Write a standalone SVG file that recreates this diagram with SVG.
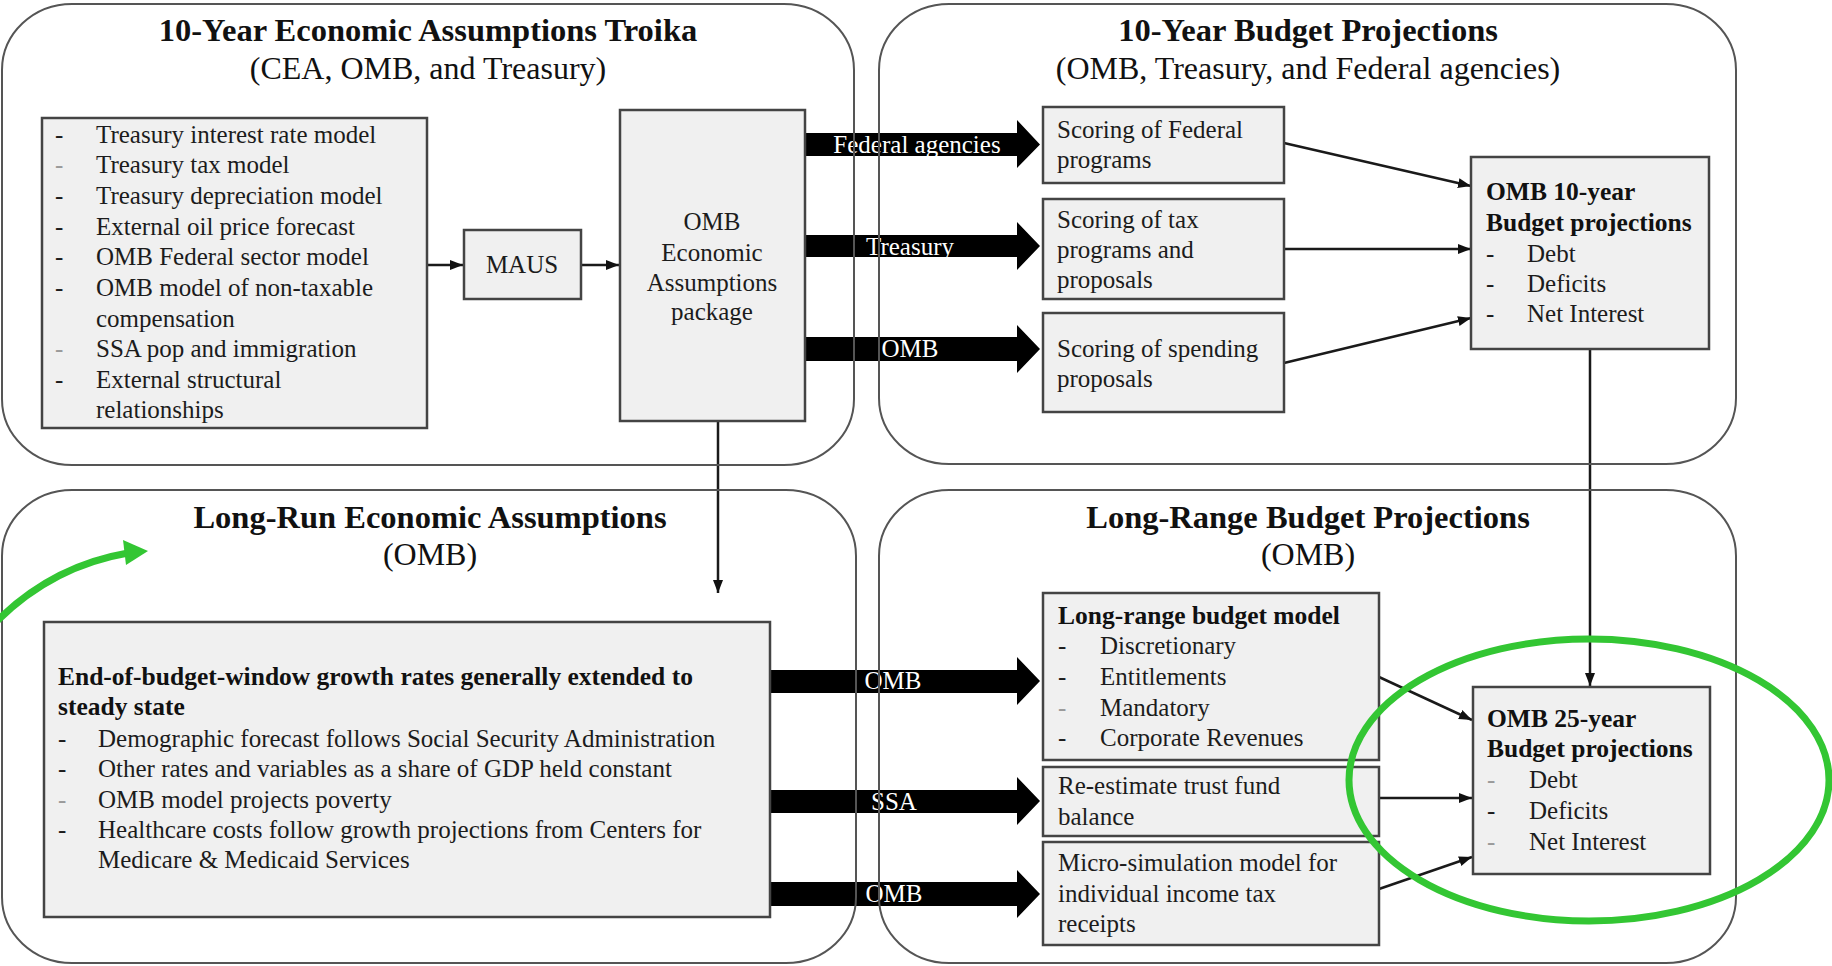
<svg xmlns="http://www.w3.org/2000/svg" width="1832" height="966" viewBox="0 0 1832 966">
<style>
text{font-family:"Liberation Serif","Times New Roman",serif;fill:#1c1c1c}
.t{font-size:32.5px;font-weight:bold;text-anchor:middle;fill:#111}
.st{font-size:32px;text-anchor:middle;fill:#111}
.b{font-size:25px}
.bb{font-size:25.5px;font-weight:bold;fill:#111}
.c{text-anchor:middle}
.lbl{font-size:25px;text-anchor:middle;fill:#fff}
.lt{fill:#9a9a9a}
.panel{fill:none;stroke:#555;stroke-width:2}
.box{fill:#f0f0f0;stroke:#444;stroke-width:2.5}
.ln{stroke:#1a1a1a;stroke-width:2.5;fill:none;marker-end:url(#ah)}
.big{fill:#000}
.green{stroke:#33c633;fill:none;stroke-width:7}
</style>
<defs>
<marker id="ah" markerWidth="14" markerHeight="12" refX="13" refY="6" orient="auto" markerUnits="userSpaceOnUse">
<path d="M0,1 L13,6 L0,11 z" fill="#111"/>
</marker>
</defs>
<rect x="0" y="0" width="1832" height="966" fill="#fff"/>

<g id="connectors">
<polygon class="big" points="805,133 1017,133 1017,120 1040,144.5 1017,168 1017,156 805,156"/>
<polygon class="big" points="805,235 1017,235 1017,222 1040,246 1017,270 1017,257 805,257"/>
<polygon class="big" points="805,337 1017,337 1017,325 1040,349 1017,373 1017,361 805,361"/>
<polygon class="big" points="770,670 1017,670 1017,657 1040,681 1017,705 1017,693 770,693"/>
<polygon class="big" points="770,790 1017,790 1017,777 1040,801 1017,825 1017,813 770,813"/>
<polygon class="big" points="770,882 1017,882 1017,870 1040,894 1017,918 1017,906 770,906"/>
<text class="lbl" x="917" y="153">Federal agencies</text>
<text class="lbl" x="910" y="255">Treasury</text>
<text class="lbl" x="910" y="357">OMB</text>
<text class="lbl" x="893" y="689">OMB</text>
<text class="lbl" x="894" y="810">SSA</text>
<text class="lbl" x="894" y="902">OMB</text>
<line class="ln" x1="427" y1="265" x2="463" y2="265"/>
<line class="ln" x1="581" y1="265" x2="619" y2="265"/>
<line class="ln" x1="718" y1="421" x2="718" y2="593"/>
<line class="ln" x1="1284" y1="143" x2="1471" y2="186"/>
<line class="ln" x1="1284" y1="249" x2="1471" y2="249"/>
<line class="ln" x1="1284" y1="363" x2="1471" y2="318"/>
<line class="ln" x1="1590" y1="349" x2="1590" y2="686"/>
<line class="ln" x1="1379" y1="677" x2="1472" y2="720"/>
<line class="ln" x1="1379" y1="798" x2="1472" y2="798"/>
<line class="ln" x1="1379" y1="889" x2="1472" y2="857"/>
</g>

<g id="panels">
<g id="panel-10yr-econ">
<rect class="panel" x="2" y="4" width="852" height="461" rx="70" ry="66"/>
<text class="t" x="428" y="41">10-Year Economic Assumptions Troika</text>
<text class="st" x="428" y="79">(CEA, OMB, and Treasury)</text>
</g>
<g id="panel-10yr-budget">
<rect class="panel" x="879" y="4" width="857" height="460" rx="70" ry="66"/>
<text class="t" x="1308" y="41">10-Year Budget Projections</text>
<text class="st" x="1308" y="79">(OMB, Treasury, and Federal agencies)</text>
</g>
<g id="panel-longrun-econ">
<rect class="panel" x="2" y="490" width="854" height="473" rx="70" ry="66"/>
<text class="t" x="430" y="528">Long-Run Economic Assumptions</text>
<text class="st" x="430" y="565">(OMB)</text>
</g>
<g id="panel-longrange-budget">
<rect class="panel" x="879" y="490" width="857" height="473" rx="70" ry="66"/>
<text class="t" x="1308" y="528">Long-Range Budget Projections</text>
<text class="st" x="1308" y="565">(OMB)</text>
</g>
</g>

<g id="inputs-list">
<rect class="box" x="42" y="118" width="385" height="310"/>
<g class="b">
<text x="55" y="143">-</text><text x="96" y="143">Treasury interest rate model</text>
<text x="55" y="173" class="lt">-</text><text x="96" y="173">Treasury tax model</text>
<text x="55" y="204">-</text><text x="96" y="204">Treasury depreciation model</text>
<text x="55" y="235">-</text><text x="96" y="235">External oil price forecast</text>
<text x="55" y="265">-</text><text x="96" y="265">OMB Federal sector model</text>
<text x="55" y="296">-</text><text x="96" y="296">OMB model of non-taxable</text>
<text x="96" y="327">compensation</text>
<text x="55" y="357" class="lt">-</text><text x="96" y="357">SSA pop and immigration</text>
<text x="55" y="388">-</text><text x="96" y="388">External structural</text>
<text x="96" y="418">relationships</text>
</g>
</g>

<g id="maus">
<rect class="box" x="464" y="230" width="117" height="69"/>
<text class="b c" x="522" y="273">MAUS</text>
</g>

<g id="omb-package">
<rect class="box" x="620" y="110" width="185" height="311"/>
<g class="b c">
<text x="712" y="230">OMB</text>
<text x="712" y="261">Economic</text>
<text x="712" y="291">Assumptions</text>
<text x="712" y="320">package</text>
</g>
</g>

<g id="scoring-federal">
<rect class="box" x="1043" y="107" width="241" height="76"/>
<text class="b" x="1057" y="138">Scoring of Federal</text>
<text class="b" x="1057" y="168">programs</text>
</g>

<g id="scoring-tax">
<rect class="box" x="1043" y="199" width="241" height="100"/>
<text class="b" x="1057" y="228">Scoring of tax</text>
<text class="b" x="1057" y="258">programs and</text>
<text class="b" x="1057" y="288">proposals</text>
</g>

<g id="scoring-spending">
<rect class="box" x="1043" y="313" width="241" height="99"/>
<text class="b" x="1057" y="357">Scoring of spending</text>
<text class="b" x="1057" y="387">proposals</text>
</g>

<g id="omb-10yr">
<rect class="box" x="1471" y="157" width="238" height="192"/>
<text class="bb" x="1486" y="200">OMB 10-year</text>
<text class="bb" x="1486" y="231">Budget projections</text>
<g class="b">
<text x="1486" y="262">-</text><text x="1527" y="262">Debt</text>
<text x="1486" y="292">-</text><text x="1527" y="292">Deficits</text>
<text x="1486" y="322">-</text><text x="1527" y="322">Net Interest</text>
</g>
</g>

<g id="longrun-box">
<rect class="box" x="44" y="622" width="726" height="295"/>
<text class="bb" x="58" y="685">End-of-budget-window growth rates generally extended to</text>
<text class="bb" x="58" y="715">steady state</text>
<g class="b">
<text x="58" y="747">-</text><text x="98" y="747">Demographic forecast follows Social Security Administration</text>
<text x="58" y="777">-</text><text x="98" y="777">Other rates and variables as a share of GDP held constant</text>
<text x="58" y="808" class="lt">-</text><text x="98" y="808">OMB model projects poverty</text>
<text x="58" y="838">-</text><text x="98" y="838">Healthcare costs follow growth projections from Centers for</text>
<text x="98" y="868">Medicare &amp; Medicaid Services</text>
</g>
</g>

<g id="longrange-model">
<rect class="box" x="1043" y="593" width="336" height="167"/>
<text class="bb" x="1058" y="624">Long-range budget model</text>
<g class="b">
<text x="1058" y="654">-</text><text x="1100" y="654">Discretionary</text>
<text x="1058" y="685">-</text><text x="1100" y="685">Entitlements</text>
<text x="1058" y="716" class="lt">-</text><text x="1100" y="716">Mandatory</text>
<text x="1058" y="746">-</text><text x="1100" y="746">Corporate Revenues</text>
</g>
</g>

<g id="trust-fund">
<rect class="box" x="1043" y="767" width="336" height="69"/>
<text class="b" x="1058" y="794">Re-estimate trust fund</text>
<text class="b" x="1058" y="825">balance</text>
</g>

<g id="micro-sim">
<rect class="box" x="1043" y="842" width="336" height="103"/>
<text class="b" x="1058" y="871">Micro-simulation model for</text>
<text class="b" x="1058" y="902">individual income tax</text>
<text class="b" x="1058" y="932">receipts</text>
</g>

<g id="omb-25yr">
<rect class="box" x="1473" y="687" width="237" height="187"/>
<text class="bb" x="1487" y="727">OMB 25-year</text>
<text class="bb" x="1487" y="757">Budget projections</text>
<g class="b">
<text x="1487" y="788" class="lt">-</text><text x="1529" y="788">Debt</text>
<text x="1487" y="819">-</text><text x="1529" y="819">Deficits</text>
<text x="1487" y="850" class="lt">-</text><text x="1529" y="850">Net Interest</text>
</g>
</g>

<g id="annotations">
<path class="green" d="M-4,622 Q52,566 128,553"/>
<polygon points="123,540 148,551 126,565" fill="#33c633"/>
<ellipse class="green" cx="1589" cy="780" rx="240" ry="141"/>
</g>
</svg>
